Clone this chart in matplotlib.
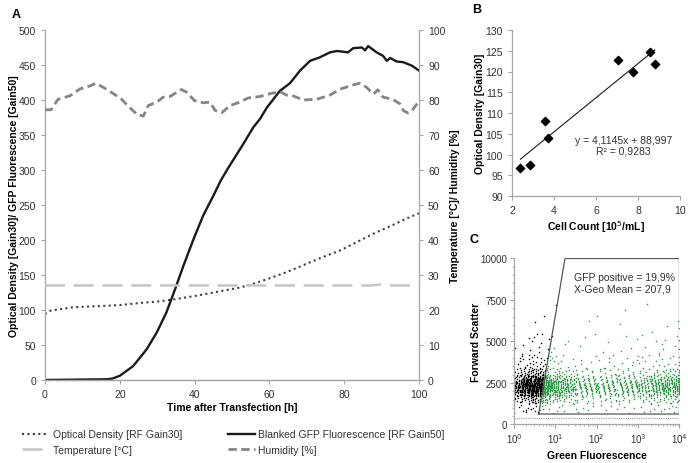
import matplotlib
matplotlib.use('Agg')
import matplotlib.pyplot as plt
from matplotlib.lines import Line2D
import numpy as np

plt.rcParams['font.family'] = ['Liberation Sans', 'DejaVu Sans']

# ---------------- panel A data ----------------
od_t = [0, 1.4, 7.6, 16.5, 20, 25.4, 30, 34.3, 40, 43.2, 48, 52.1, 56, 61, 65, 69.9, 74, 78.9, 83, 87.8, 92, 96, 99.4, 100]
od_v = [94, 99, 104, 106, 107, 110, 112, 115, 120, 123, 128, 132, 138, 147, 155, 166, 175, 185, 196, 209, 219, 229, 237, 238]

gfp_t = [0, 16.5, 18, 20, 23.6, 27.2, 29.9, 32.5, 34.8, 37, 39.7, 42.3, 45, 47, 49, 51, 53, 55.7, 57.5, 59.3, 62.8,
         65.5, 68.2, 70.9, 73.5, 76.2, 78, 79.7, 81, 82.4, 84.7, 85.6, 86.4, 88.7, 90.4, 91.4, 92.3, 94, 95.8, 98.1, 100]
gfp_v = [0, 1, 2, 6, 20, 44, 68, 97, 130, 163, 201, 235, 263, 285, 303, 320, 337, 361, 373, 389, 413,
         424, 442, 456, 461, 468, 470, 469, 468, 474, 475, 471, 477, 468, 463, 456, 460, 455, 454, 449, 442]

temp_t = [0, 20, 40, 60, 80, 87, 89, 90, 91, 93, 100]
temp_v = [27, 27, 27, 27, 27, 27, 27.2, 27.3, 27.2, 27, 27]

hum_t = [0, 1.6, 3.5, 6.7, 9.4, 12, 13.6, 15.6, 18.3, 20.5, 22.3, 24.5, 26.3, 27.6, 29.9, 31.6, 33.4, 36.5, 37.9,
         40, 42.3, 44.1, 45.5, 47.3, 49.5, 52.1, 54.4, 57.5, 60.2, 62.8, 64.6, 66.3, 69, 72.6, 76.2, 78.9, 82.4,
         84.2, 86, 87.8, 89, 90.4, 93, 95, 95.8, 97, 98.1, 100]
hum_v = [77.2, 77.2, 80.2, 81.2, 83.2, 84, 84.8, 83.6, 81.8, 80.2, 78.2, 76, 75.4, 78.4, 79.4, 80.8, 81, 83, 82.2,
         79.8, 79.2, 79.4, 77, 76.4, 78.4, 79.4, 80.6, 81, 81.8, 82.4, 81.4, 81.2, 80, 80.2, 81.4, 83.1, 84.3,
         84.8, 83.6, 81.7, 82.9, 80.8, 80.2, 78.8, 77, 76.3, 76.9, 79.7]

# ---------------- panel B data ----------------
cell_count = [2.40, 2.84, 3.58, 3.70, 7.04, 7.75, 8.56, 8.80]
od_gain30 = [96.7, 97.5, 108.1, 103.9, 122.7, 119.9, 124.8, 121.7]
fit_slope, fit_icpt = 4.1145, 88.997

# ---------------- panel C data ----------------
# estimated event counts per cell (rows: y bins bottom->top, cols: log10 x bins)
fl_edges = [0, 0.15, 0.3, 0.45, 0.6, 0.75, 0.9, 1.1, 1.3, 1.5, 2.0, 2.5, 3.0, 3.3, 3.6, 3.8, 4.0]
fsc_edges = [700, 1300, 1700, 1950, 2150, 2350, 2550, 2750, 3000, 3400, 4200, 5500, 7500]
counts = [
    [2, 3, 4, 4, 4, 3, 3, 2, 2, 4, 4, 4, 3, 4, 3, 3],
    [5, 8, 10, 10, 10, 8, 8, 6, 5, 8, 8, 8, 6, 8, 6, 6],
    [8, 12, 16, 17, 16, 13, 12, 9, 7, 12, 11, 12, 9, 12, 9, 9],
    [10, 16, 20, 22, 20, 16, 15, 11, 9, 15, 13, 15, 11, 15, 12, 12],
    [11, 18, 22, 24, 22, 18, 16, 12, 10, 16, 14, 16, 12, 16, 13, 13],
    [10, 16, 21, 22, 21, 17, 15, 11, 9, 15, 13, 15, 11, 15, 12, 12],
    [8, 13, 17, 18, 17, 14, 12, 9, 7, 12, 11, 12, 9, 12, 10, 10],
    [6, 10, 13, 14, 13, 10, 9, 7, 5, 9, 8, 9, 7, 9, 7, 7],
    [4, 7, 9, 10, 9, 7, 6, 4, 3, 6, 6, 7, 5, 6, 5, 5],
    [2, 4, 6, 6, 6, 5, 4, 3, 2, 5, 5, 6, 4, 5, 3, 3],
    [1, 2, 3, 3, 3, 3, 2, 1, 1, 3, 3, 4, 2, 3, 2, 2],
    [0, 0, 0, 1, 1, 0, 1, 0, 0, 1, 1, 2, 1, 1, 1, 1],
]
# events piled on the left / right edge of the scale, per y bin
left_edge = [0, 1, 2, 3, 3, 3, 2, 2, 1, 0, 0, 0]
right_edge = [0, 1, 2, 2, 3, 3, 2, 2, 2, 2, 2, 1]
gate_x = [3.95, 17.1, 1e4, 1e4, 3.95]
gate_y = [630, 10000, 10000, 630, 630]

TICK = '#333333'
SPINE = '#a6a6a6'

fig = plt.figure(figsize=(6.88, 4.64), dpi=100)

def style(ax, right=False):
    for s in ['top', 'right', 'left', 'bottom']:
        ax.spines[s].set_color(SPINE)
        ax.spines[s].set_linewidth(0.9)
    ax.spines['top'].set_visible(False)
    if not right:
        ax.spines['right'].set_visible(False)
    ax.tick_params(colors=SPINE, labelcolor=TICK, labelsize=7.5, length=3, width=0.8)

# ---------------- A ----------------
axA = fig.add_axes([0.0654, 0.1789, 0.5436, 0.7543])
axA2 = axA.twinx()
axA.plot(od_t, od_v, color='#404040', lw=1.5, linestyle=(0, (1, 1.6)))
axA.plot(gfp_t, gfp_v, color='#1a1a1a', lw=1.7)
axA2.plot(temp_t, temp_v, color='#c4c4c4', lw=1.8, dashes=(8, 3.5))
axA2.plot(hum_t, hum_v, color='#858585', lw=2.0, dashes=(3, 1.6))
axA.set_xlim(0, 100)
axA.set_ylim(0, 500)
axA.set_yticks(range(0, 501, 50))
axA.set_xticks(range(0, 101, 20))
axA2.set_ylim(0, 100)
axA2.set_yticks(range(0, 101, 10))
style(axA)
style(axA2, right=True)
axA2.spines['left'].set_visible(False)
axA.set_xlabel('Time after Transfection [h]', fontsize=7.5, fontweight='bold', labelpad=2)
axA.set_ylabel('Optical Density [Gain30]/ GFP Fluorescence [Gain50]', fontsize=7.5, fontweight='bold', labelpad=0)
axA2.set_ylabel('Temperature [°C]/ Humidity [%]', fontsize=7.5, fontweight='bold', labelpad=3)

handles = [
    Line2D([], [], color='#404040', lw=1.5, linestyle=(0, (1, 1.6))),
    Line2D([], [], color='#c4c4c4', lw=1.8, dashes=(8, 3.5)),
    Line2D([], [], color='#1a1a1a', lw=1.7),
    Line2D([], [], color='#858585', lw=2.0, dashes=(3, 1.6)),
]
labels = ['Optical Density [RF Gain30]', 'Temperature [°C]',
          'Blanked GFP Fluorescence [RF Gain50]', 'Humidity [%]']
fig.legend(handles, labels, loc='upper left', bbox_to_anchor=(0.025, 0.084), ncol=2,
           frameon=False, fontsize=7.5, handlelength=2.6, handletextpad=0.3,
           columnspacing=4.4, labelspacing=0.55, borderpad=0, labelcolor=TICK)

# ---------------- B ----------------
axB = fig.add_axes([0.7442, 0.5754, 0.2442, 0.3578])
axB.scatter(cell_count, od_gain30, marker='D', s=18, color='black', zorder=3)
xf = np.array([min(cell_count), max(cell_count)])
axB.plot(xf, fit_slope * xf + fit_icpt, color='#1a1a1a', lw=0.8)
axB.set_xlim(2, 10)
axB.set_ylim(90, 130)
axB.set_xticks(range(2, 11, 2))
axB.set_yticks(range(90, 131, 5))
style(axB)
axB.text(7.3, 102.2, 'y = 4,1145x + 88,997\nR² = 0,9283', ha='center', va='center',
         fontsize=7.5, color=TICK, linespacing=1.1)
axB.set_xlabel('Cell Count [10$^5$/mL]', fontsize=7.5, fontweight='bold', labelpad=2)
axB.set_ylabel('Optical Density [Gain30]', fontsize=7.5, fontweight='bold', labelpad=0)

# ---------------- C ----------------
axC = fig.add_axes([0.7471, 0.0830, 0.2405, 0.3578])
px, py = [], []
phi1, phi2 = 0.7548776662, 0.5698402910
for i in range(len(fsc_edges) - 1):
    for j in range(len(fl_edges) - 1):
        n = counts[i][j]
        for k in range(n):
            u = (0.37 * j + 0.21 * i + k * phi1) % 1.0
            v = (0.53 * i + 0.17 * j + k * phi2) % 1.0
            px.append(fl_edges[j] + u * (fl_edges[j + 1] - fl_edges[j]))
            py.append(fsc_edges[i] + v * (fsc_edges[i + 1] - fsc_edges[i]))
    for k in range(left_edge[i]):
        v = (0.31 * i + k * phi2) % 1.0
        px.append(0.005)
        py.append(fsc_edges[i] + v * (fsc_edges[i + 1] - fsc_edges[i]))
    for k in range(right_edge[i]):
        v = (0.47 * i + k * phi2) % 1.0
        px.append(3.995)
        py.append(fsc_edges[i] + v * (fsc_edges[i + 1] - fsc_edges[i]))
px = np.array(px)
py = np.array(py)
gate_lx = np.log10(gate_x[0]) + (py - gate_y[0]) / (gate_y[1] - gate_y[0]) * (np.log10(gate_x[1]) - np.log10(gate_x[0]))
inside = (px > gate_lx) & (py > gate_y[0])
axC.scatter(10 ** px[~inside], py[~inside], s=1.2, color='black', linewidths=0)
axC.scatter(10 ** px[inside], py[inside], s=1.2, color='#2f9a45', linewidths=0)
axC.plot(gate_x, gate_y, color='#555555', lw=0.9)
axC.axhline(400, color='#999999', lw=0.8, linestyle=(0, (1, 1)))
axC.set_xscale('log')
axC.set_xlim(1, 1e4)
axC.set_ylim(0, 10000)
axC.set_xticks([1, 10, 100, 1000, 10000])
axC.set_xticklabels(['10$^0$', '10$^1$', '10$^2$', '10$^3$', '10$^4$'])
axC.set_yticks([0, 2500, 5000, 7500, 10000])
axC.set_yticks(range(0, 10001, 500), minor=True)
style(axC)
axC.tick_params(axis='x', labelsize=7, pad=1.5)
axC.tick_params(axis='y', labelsize=7, pad=2)
axC.tick_params(which='minor', colors=SPINE, length=1.5, width=0.6)
axC.text(28, 8520, 'GFP positive = 19,9%\nX-Geo Mean = 207,9', ha='left', va='center',
         fontsize=7.5, color=TICK, linespacing=1.15)
axC.set_xlabel('Green Fluorescence', fontsize=7.5, fontweight='bold', labelpad=4)
axC.set_ylabel('Forward Scatter', fontsize=7.5, fontweight='bold')
axC.yaxis.set_label_coords(-0.2, 0.5)

# panel letters
fig.text(0.017, 0.968, 'A', fontsize=9, fontweight='bold', va='center')
fig.text(0.686, 0.978, 'B', fontsize=9, fontweight='bold', va='center')
fig.text(0.683, 0.483, 'C', fontsize=9, fontweight='bold', va='center')

fig.savefig('out.png', dpi=100)
